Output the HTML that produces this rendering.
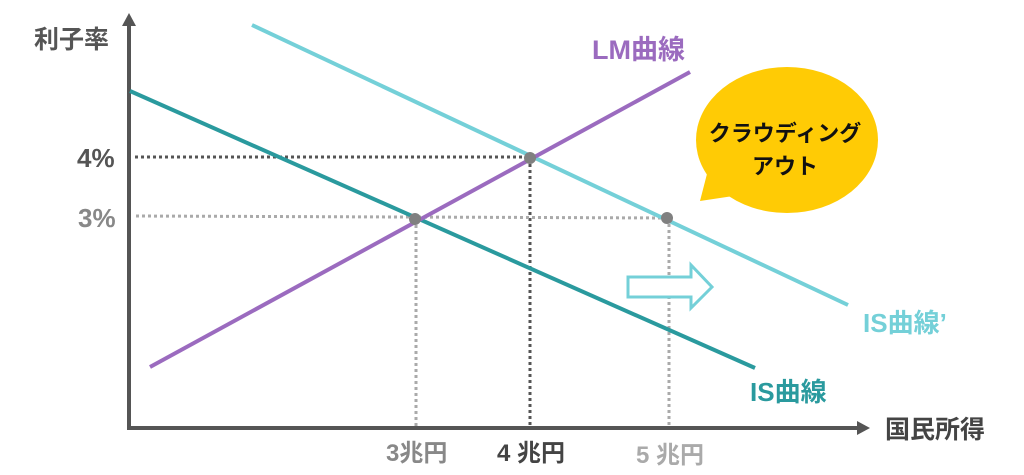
<!DOCTYPE html>
<html><head><meta charset="utf-8"><style>
html,body{margin:0;padding:0;background:#fff;width:1024px;height:475px;overflow:hidden}
text{font-family:"Liberation Sans","Noto Sans CJK JP",sans-serif;font-weight:bold}
</style></head><body>
<svg width="1024" height="475" viewBox="0 0 1024 475">
<line x1="135" y1="157" x2="530" y2="157" stroke="#555" stroke-width="3" stroke-dasharray="3,3"/>
<line x1="530" y1="158" x2="530" y2="428" stroke="#555" stroke-width="3" stroke-dasharray="3,3"/>
<line x1="136" y1="216" x2="667" y2="218" stroke="#aaa" stroke-width="3" stroke-dasharray="3,3"/>
<line x1="416" y1="219" x2="416" y2="428" stroke="#aaa" stroke-width="3" stroke-dasharray="3,3"/>
<line x1="669" y1="218" x2="669" y2="428" stroke="#aaa" stroke-width="3" stroke-dasharray="3,3"/>
<line x1="129" y1="22" x2="129" y2="430" stroke="#555" stroke-width="4"/>
<polygon points="129,13 122,26 136,26" fill="#555"/>
<line x1="127" y1="428" x2="860" y2="428" stroke="#555" stroke-width="4"/>
<polygon points="870,428 857,421 857,435" fill="#555"/>
<line x1="130" y1="91" x2="755" y2="368" stroke="#2a9a9e" stroke-width="4"/>
<line x1="252" y1="25" x2="848" y2="305" stroke="#74d0d8" stroke-width="4"/>
<line x1="150" y1="367" x2="690" y2="72" stroke="#9b6bbf" stroke-width="4"/>
<circle cx="415" cy="219" r="6" fill="#808080"/>
<circle cx="530" cy="158" r="6" fill="#808080"/>
<circle cx="667" cy="218" r="6" fill="#808080"/>
<ellipse cx="787" cy="140" rx="91" ry="73" fill="#ffcb05"/>
<polygon points="708,170 700,201 740,195" fill="#ffcb05"/>
<text x="785" y="141" font-size="22" text-anchor="middle" fill="#111">クラウディング</text>
<text x="785" y="174" font-size="22" text-anchor="middle" fill="#111">アウト</text>
<polygon points="628,277 691,277 691,265 712,287 691,308 691,297 628,297" fill="#fff" stroke="#74d0d8" stroke-width="3"/>
<text x="592" y="59" font-size="27" fill="#9b6bbf">LM曲線</text>
<text x="863" y="332" font-size="26" fill="#74d0d8">IS曲線’</text>
<text x="750" y="401" font-size="26" fill="#2a9a9e">IS曲線</text>
<text x="34" y="48" font-size="25" fill="#555">利子率</text>
<text x="77" y="167" font-size="26" fill="#555">4%</text>
<text x="78" y="227" font-size="26" fill="#888">3%</text>
<text x="386" y="461" font-size="24" fill="#888">3兆円</text>
<text x="497" y="461" font-size="24" fill="#444">4 兆円</text>
<text x="636" y="463" font-size="24" fill="#aaa">5 兆円</text>
<text x="885" y="438" font-size="25" fill="#444">国民所得</text>
</svg>
</body></html>
